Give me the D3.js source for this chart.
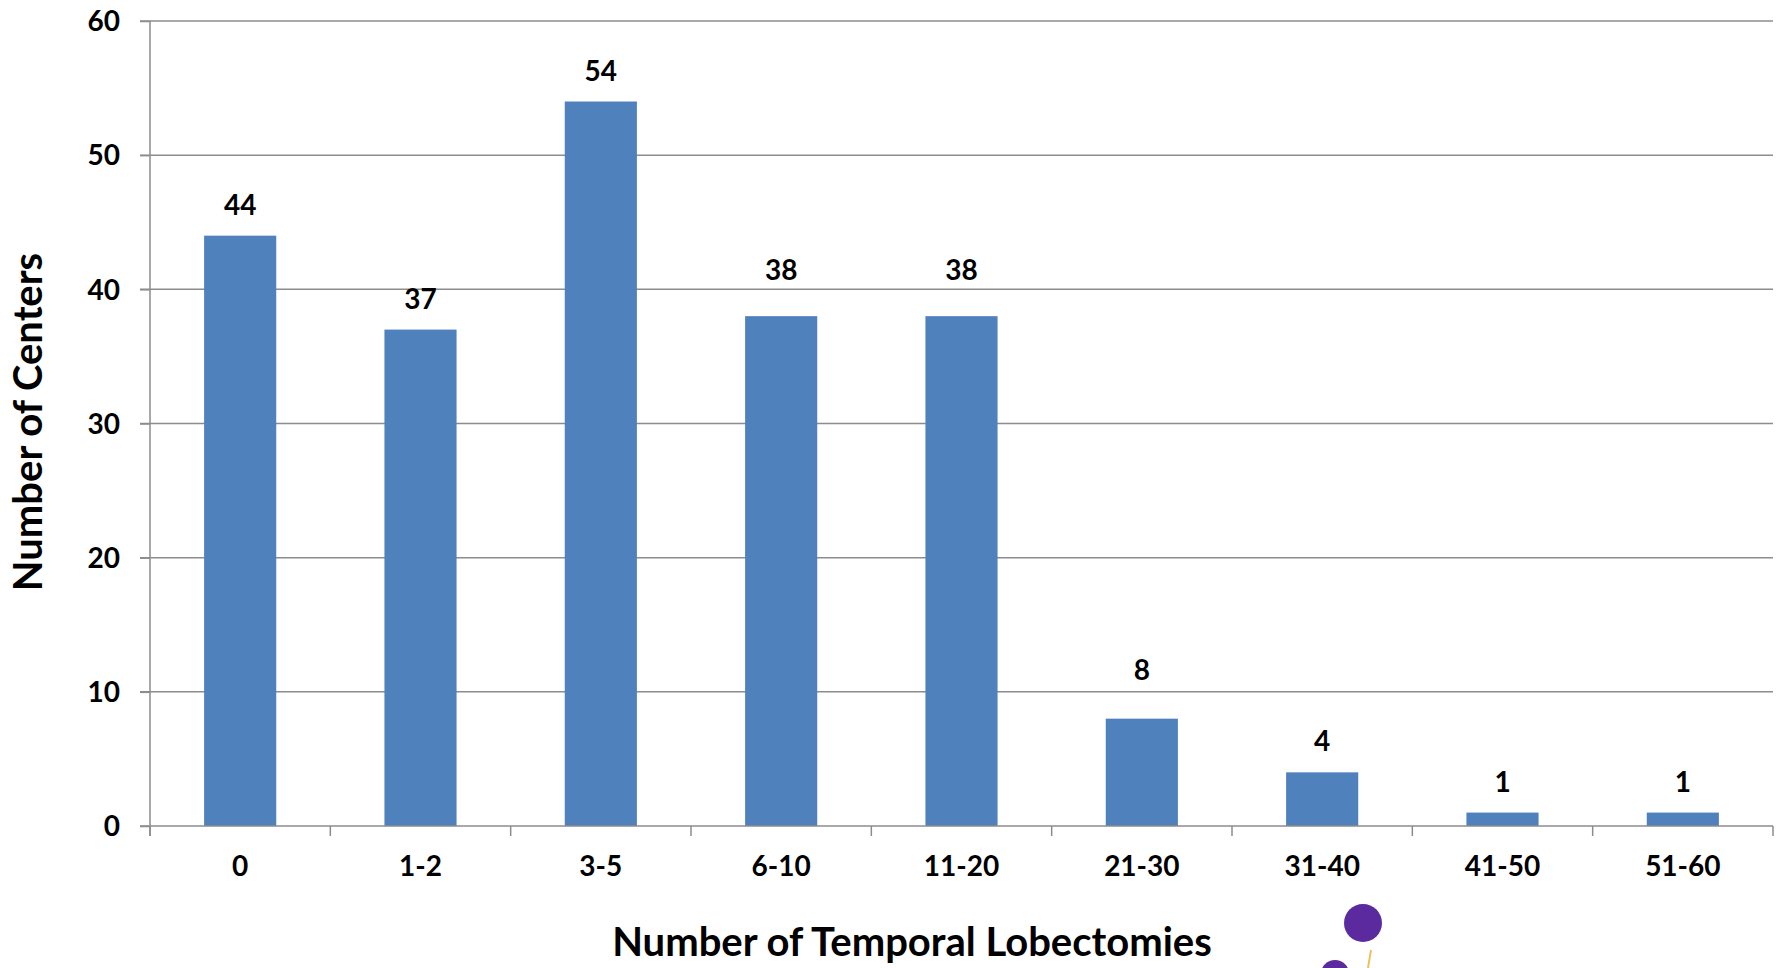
<!DOCTYPE html>
<head>
  <meta charset="utf-8">
  <script src="https://d3js.org/d3.v7.min.js"></script>
  <style>
    body { margin:0; background:#fff; }
    svg { display:block; }
    text { font-family: Lato, "Open Sans", sans-serif; font-weight: 700; fill: #000; }
  </style>
</head>

<body>
  <script>
    // chart data
    var categories = ["0", "1-2", "3-5", "6-10", "11-20", "21-30", "31-40", "41-50", "51-60"];
    var centers = [44, 37, 54, 38, 38, 8, 4, 1, 1];
    var yTicks = [0, 10, 20, 30, 40, 50, 60];
    // some labels were nudged up in the original, off the gridlines
    var labelLift = [0, 0, 0, 15, 15, 18, 0, 0, 0];

    var W = 1779, H = 968,
        mLeft = 150, mRight = 1773, mTop = 21, mBottom = 826;

    var svg = d3.select("body").append("svg")
        .attr("width", W)
        .attr("height", H);

    var x = d3.scaleBand()
        .domain(categories)
        .range([mLeft, mRight])
        .paddingInner(0.6)
        .paddingOuter(0.3);

    var y = d3.scaleLinear()
        .domain([0, 60])
        .range([mBottom, mTop]);

    // gridlines
    svg.append("g").selectAll("line").data(yTicks.filter(function(d){ return d > 0; }))
      .enter().append("line")
        .attr("x1", mLeft - 10)
        .attr("x2", mRight)
        .attr("y1", function(d){ return y(d); })
        .attr("y2", function(d){ return y(d); })
        .attr("stroke", "#8c8c8c")
        .attr("stroke-width", 1.5);

    // bars
    svg.append("g").selectAll("rect").data(centers)
      .enter().append("rect")
        .attr("x", function(d, i){ return x(categories[i]); })
        .attr("y", function(d){ return y(d); })
        .attr("width", x.bandwidth())
        .attr("height", function(d){ return y(0) - y(d); })
        .attr("fill", "#4f81bd");

    // value labels
    svg.append("g").selectAll("text").data(centers)
      .enter().append("text")
        .attr("x", function(d, i){ return x(categories[i]) + x.bandwidth() / 2; })
        .attr("y", function(d, i){ return y(d) - 21 - labelLift[i]; })
        .attr("text-anchor", "middle")
        .style("font-size", "28px")
        .text(function(d){ return d; });

    // y axis
    var yAxis = svg.append("g")
        .attr("transform", "translate(" + mLeft + ",0)")
        .call(d3.axisLeft(y).tickValues(yTicks).tickSize(10).tickPadding(20));
    yAxis.select(".domain").attr("stroke", "#8c8c8c").attr("stroke-width", 1.5)
        .attr("d", "M0," + mTop + "V" + (mBottom + 10));
    yAxis.selectAll(".tick line").attr("stroke", "#8c8c8c").attr("stroke-width", 1.5);
    yAxis.selectAll(".tick text").style("font-size", "28px").style("font-family", null)
        .attr("dy", "0.35em");

    // x axis, ticks at band boundaries
    var band = x.step();
    var bounds = d3.range(categories.length + 1).map(function(i){ return mLeft + i * band; });
    var xAxis = svg.append("g")
        .attr("transform", "translate(0," + mBottom + ")")
        .call(d3.axisBottom(x).tickSize(0).tickPadding(40));
    xAxis.select(".domain").attr("stroke", "#8c8c8c").attr("stroke-width", 1.5)
        .attr("d", "M" + (mLeft - 10) + ",0H" + mRight);
    xAxis.selectAll(".tick text").style("font-size", "28px").style("font-family", null)
        .attr("dy", "0.35em");
    xAxis.selectAll("line.bound").data(bounds)
      .enter().append("line")
        .attr("class", "bound")
        .attr("x1", function(d){ return d; })
        .attr("x2", function(d){ return d; })
        .attr("y1", 0)
        .attr("y2", 10)
        .attr("stroke", "#8c8c8c")
        .attr("stroke-width", 1.5);

    // axis titles
    svg.append("text")
        .attr("x", 912)
        .attr("y", 956)
        .attr("text-anchor", "middle")
        .style("font-size", "40px")
        .text("Number of Temporal Lobectomies");

    svg.append("text")
        .attr("transform", "translate(42,422) rotate(-90)")
        .attr("text-anchor", "middle")
        .style("font-size", "40px")
        .text("Number of Centers");

    // logo fragment at bottom edge
    svg.append("line")
        .attr("x1", 1371).attr("y1", 950).attr("x2", 1368).attr("y2", 968)
        .attr("stroke", "#f0c060").attr("stroke-width", 2);
    svg.append("circle").attr("cx", 1363).attr("cy", 923).attr("r", 19).attr("fill", "#5b2a9e");
    svg.append("circle").attr("cx", 1335).attr("cy", 974).attr("r", 14).attr("fill", "#5b2a9e");
  </script>
</body>

</html>
